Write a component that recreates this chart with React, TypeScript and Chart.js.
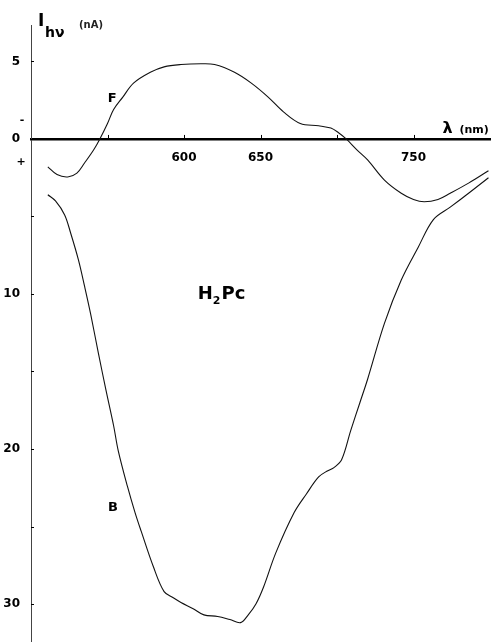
import React, { useEffect, useRef } from "react";
import { Chart, registerables } from "chart.js";

Chart.register(...registerables);

// Curve F (front illumination)
const fWavelength = [511, 517, 524, 530, 535, 541, 545, 550, 554, 560, 567, 578, 587, 598, 611, 620, 633, 644, 655, 665, 676, 688, 696, 701, 706, 713, 720, 731, 742, 750, 757, 766, 774, 786, 799];
const fCurrent = [-1.8, -2.3, -2.45, -2.2, -1.55, -0.7, 0, 1.0, 1.9, 2.7, 3.6, 4.3, 4.65, 4.8, 4.85, 4.8, 4.3, 3.6, 2.7, 1.75, 1.0, 0.85, 0.7, 0.4, 0, -0.7, -1.35, -2.65, -3.5, -3.9, -4.05, -3.9, -3.5, -2.85, -2.05];

// Curve B (back illumination)
const bWavelength = [511, 516, 522, 526, 531, 535, 539, 544, 549, 554, 557, 563, 568, 572, 580, 587, 593, 598, 606, 613, 622, 630, 637, 642, 647, 652, 660, 672, 680, 688, 694, 698, 703, 709, 715, 720, 731, 742, 753, 763, 774, 786, 799];
const bCurrent = [-3.6, -4.0, -4.9, -6.1, -7.8, -9.5, -11.3, -13.8, -16.2, -18.5, -20.1, -22.4, -24.1, -25.3, -27.6, -29.2, -29.6, -29.9, -30.3, -30.7, -30.8, -31.0, -31.2, -30.7, -30.0, -28.9, -26.7, -24.1, -22.9, -21.8, -21.4, -21.2, -20.7, -18.8, -17.0, -15.5, -11.9, -9.1, -7.0, -5.2, -4.4, -3.5, -2.5];

const xTicks = [550, 600, 650, 700, 750];
const xLabels = [600, 650, 750];
const yTicks = [5, 0, -5, -10, -15, -20, -25, -30];
const yLabels = [5, 0, -10, -20, -30];

const FONT = "'DejaVu Sans', 'Liberation Sans', Arial, sans-serif";

const annotations = {
  id: "annotations",
  afterDraw(chart: any) {
    const ctx = chart.ctx;
    const xs = chart.scales.x;
    const ys = chart.scales.y;
    const left = chart.chartArea.left;
    const y0 = ys.getPixelForValue(0);
    ctx.save();
    ctx.strokeStyle = "#000";
    ctx.lineWidth = 1;
    // y tick marks (inside)
    yTicks.forEach((v) => {
      const py = Math.round(ys.getPixelForValue(v)) + 0.5;
      ctx.beginPath();
      ctx.moveTo(left, py);
      ctx.lineTo(left + 3, py);
      ctx.stroke();
    });
    // x tick marks (upward)
    xTicks.forEach((v) => {
      const px = Math.round(xs.getPixelForValue(v)) + 0.5;
      ctx.beginPath();
      ctx.moveTo(px, y0);
      ctx.lineTo(px, y0 - 4);
      ctx.stroke();
    });
    ctx.fillStyle = "#000";
    ctx.textBaseline = "alphabetic";
    // sign marks
    ctx.font = `bold 11px ${FONT}`;
    ctx.textAlign = "center";
    ctx.fillText("-", 22, ys.getPixelForValue(1.2) + 3);
    ctx.fillText("+", 21, ys.getPixelForValue(-1.4) + 4);
    // y title
    ctx.textAlign = "left";
    ctx.font = `bold 17px ${FONT}`;
    ctx.fillText("I", 38, 26);
    ctx.font = `bold 14px ${FONT}`;
    ctx.fillText("hν", 45, 37);
    ctx.font = `bold 10px ${FONT}`;
    ctx.fillStyle = "#222";
    ctx.fillText("(nA)", 79, 28);
    ctx.fillStyle = "#000";
    // x title
    ctx.font = `bold 16px ${FONT}`;
    ctx.fillText("λ", xs.getPixelForValue(769), y0 - 6);
    ctx.font = `bold 11px ${FONT}`;
    ctx.fillText("(nm)", xs.getPixelForValue(780), y0 - 6);
    // curve labels
    ctx.font = `bold 13px ${FONT}`;
    ctx.textAlign = "center";
    ctx.fillText("F", xs.getPixelForValue(553), ys.getPixelForValue(2.7) + 5);
    ctx.fillText("B", xs.getPixelForValue(553.5), ys.getPixelForValue(-23.7) + 5);
    // H2Pc
    ctx.textAlign = "left";
    let hx = xs.getPixelForValue(609);
    const hy = ys.getPixelForValue(-9.9) + 7;
    ctx.font = `bold 18px ${FONT}`;
    ctx.fillText("H", hx, hy);
    hx += ctx.measureText("H").width;
    ctx.font = `bold 11px ${FONT}`;
    ctx.fillText("2", hx, hy + 5);
    hx += ctx.measureText("2").width + 1;
    ctx.font = `bold 18px ${FONT}`;
    ctx.fillText("Pc", hx, hy);
    ctx.restore();
  },
};

export default function App() {
  const ref = useRef<HTMLCanvasElement>(null);
  useEffect(() => {
    if (!ref.current) return;
    const chart = new Chart(ref.current, {
      type: "line",
      data: {
        datasets: [
          {
            label: "F",
            data: fWavelength.map((x, i) => ({ x, y: fCurrent[i] })),
            borderColor: "#111",
            borderWidth: 1.1,
            pointRadius: 0,
            tension: 0.35,
            fill: false,
          },
          {
            label: "B",
            data: bWavelength.map((x, i) => ({ x, y: bCurrent[i] })),
            borderColor: "#111",
            borderWidth: 1.1,
            pointRadius: 0,
            tension: 0.35,
            fill: false,
          },
        ],
      },
      options: {
        responsive: false,
        animation: false,
        events: [],
        layout: { padding: { top: 25, right: 7, left: 0, bottom: 0 } },
        plugins: { legend: { display: false }, tooltip: { enabled: false } },
        scales: {
          x: {
            type: "linear",
            min: 500,
            max: 800,
            position: { y: 0 } as any,
            afterBuildTicks: (s: any) => {
              s.ticks = xTicks.map((v) => ({ value: v }));
            },
            ticks: {
              autoSkip: false,
              maxRotation: 0,
              padding: 4,
              color: "#000",
              font: { size: 12, weight: "bold", family: FONT },
              callback: (v: any) => (xLabels.includes(Number(v)) ? String(v) : ""),
            },
            grid: { display: false },
            border: { display: true, color: "#000", width: 2.5 },
          },
          y: {
            type: "linear",
            min: -32.45,
            max: 7.35,
            afterBuildTicks: (s: any) => {
              s.ticks = yTicks.map((v) => ({ value: v }));
            },
            afterFit: (s: any) => {
              s.width = 31;
              s.paddingTop = 0;
              s.paddingBottom = 0;
            },
            ticks: {
              autoSkip: false,
              padding: 3,
              color: "#000",
              font: { size: 12, weight: "bold", family: FONT },
              callback: (v: any) => (yLabels.includes(Number(v)) ? String(Math.abs(Number(v))) : ""),
            },
            grid: { display: false },
            border: { display: true, color: "#444", width: 1 },
          },
        },
      },
      plugins: [annotations],
    });
    return () => chart.destroy();
  }, []);
  return (
    <div style={{ position: "absolute", left: 0, top: 0, width: 497, height: 642, background: "#fff" }}>
      <canvas ref={ref} width={497} height={642} style={{ width: 497, height: 642, display: "block" }} />
    </div>
  );
}
